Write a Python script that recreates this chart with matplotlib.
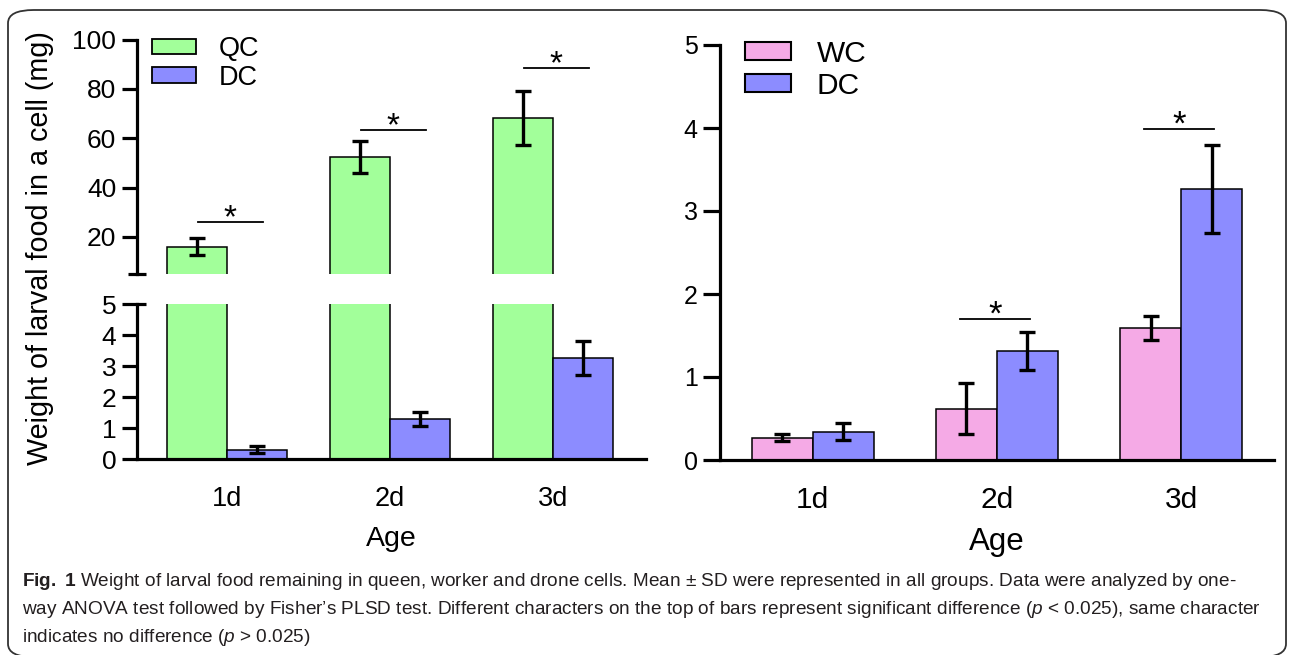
import numpy as np
import matplotlib
matplotlib.use("Agg")
import matplotlib.pyplot as plt
from matplotlib.patches import FancyBboxPatch, Patch

plt.rcParams['font.family'] = ['Liberation Sans', 'DejaVu Sans']
plt.rcParams['mathtext.fontset'] = 'custom'
plt.rcParams['mathtext.rm'] = 'Liberation Sans'
plt.rcParams['mathtext.it'] = 'Liberation Sans:italic'
plt.rcParams['mathtext.bf'] = 'Liberation Sans:bold'

# data
ages = ["1d", "2d", "3d"]

qc_mean = [16.1, 52.4, 68.3]
qc_sd = [3.6, 6.45, 10.9]
dc_left_mean = [0.31, 1.30, 3.28]
dc_left_sd = [0.12, 0.24, 0.55]

wc_mean = [0.27, 0.62, 1.59]
wc_sd = [0.04, 0.31, 0.145]
dc_mean = [0.34, 1.31, 3.27]
dc_sd = [0.10, 0.23, 0.53]

sig_left = [26.1, 63.3, 88.6]      # heights of "*" lines, left panel (top part)
sig_right_idx = [1, 2]
sig_right = [1.70, 3.99]

green = "#a2ff9a"
blue = "#8c8cff"
pink = "#f5aae6"

W, H = 1290, 655
fig = plt.figure(figsize=(W / 100, H / 100), dpi=100)

def box(x0, y0, x1, y1):
    return [x0 / W, 1 - y1 / H, (x1 - x0) / W, (y1 - y0) / H]

lw_ax = 2.3
ekw = dict(elinewidth=2.4, capsize=5.5, capthick=2.4, ecolor="black")
x = np.arange(len(ages))

# ---- left panel: broken axis
ax_top = fig.add_axes(box(137, 39.5, 646, 274))
ax_bot = fig.add_axes(box(137, 304.3, 646, 459.3))
bw = 0.368
xlim_l = (-0.552, 2.571)

for ax in (ax_top, ax_bot):
    ax.bar(x - bw / 2, qc_mean, bw, color=green, edgecolor="black", linewidth=1.1,
           yerr=qc_sd, error_kw=ekw)
    ax.bar(x + bw / 2, dc_left_mean, bw, color=blue, edgecolor="black", linewidth=1.1,
           yerr=dc_left_sd, error_kw=ekw)
    ax.set_xlim(*xlim_l)
    for s in ("top", "right"):
        ax.spines[s].set_visible(False)
    ax.spines["left"].set_linewidth(lw_ax)
    ax.spines["bottom"].set_linewidth(lw_ax)
    ax.tick_params(axis="y", length=11, width=lw_ax, labelsize=19, pad=4)
    ax.tick_params(axis="x", length=0, labelsize=19.5, pad=19)

ax_top.set_ylim(5, 100)
ax_top.set_yticks([20, 40, 60, 80, 100])
ax_top.spines["bottom"].set_visible(False)
ax_top.set_xticks([])
ax_bot.set_ylim(0, 5)
ax_bot.set_yticks([0, 1, 2, 3, 4, 5])
ax_bot.set_xticks(x)
ax_bot.set_xticklabels(ages)
ax_bot.set_xlabel("Age", fontsize=20.5, labelpad=10)

# break marks
ax_top.plot([-0.018, 0.018], [0, 0], transform=ax_top.transAxes, color="black",
            lw=lw_ax, clip_on=False, solid_capstyle="butt")
ax_bot.plot([0, 0.018], [1, 1], transform=ax_bot.transAxes, color="black",
            lw=lw_ax, clip_on=False, solid_capstyle="butt")

for i, h in enumerate(sig_left):
    ax_top.plot([i - 0.18, i + 0.22], [h, h], color="black", lw=1.3)
    ax_top.annotate("*", (i + 0.02, h), xytext=(0, -4), textcoords="offset points",
                    ha="center", va="baseline", fontsize=24)

ax_top.legend(handles=[Patch(facecolor=green, edgecolor="black", linewidth=1.3, label="QC"),
                       Patch(facecolor=blue, edgecolor="black", linewidth=1.3, label="DC")],
              loc="upper left", bbox_to_anchor=(0.03, 1.015), frameon=False, fontsize=19.5,
              handlelength=1.6, handleheight=0.5, handletextpad=0.85, labelspacing=0.1,
              borderpad=0, borderaxespad=0)

fig.text(40 / W, 1 - 248 / H, "Weight of larval food in a cell (mg)", rotation=90,
         ha="center", va="center", fontsize=20.7)

# ---- right panel
ax_r = fig.add_axes(box(720, 45, 1274, 460))
bw_r = 0.331
ax_r.bar(x - bw_r / 2, wc_mean, bw_r, color=pink, edgecolor="black", linewidth=1.1,
         yerr=wc_sd, error_kw=ekw)
ax_r.bar(x + bw_r / 2, dc_mean, bw_r, color=blue, edgecolor="black", linewidth=1.1,
         yerr=dc_sd, error_kw=ekw)
ax_r.set_xlim(-0.503, 2.504)
ax_r.set_ylim(0, 5)
ax_r.set_yticks([0, 1, 2, 3, 4, 5])
ax_r.set_xticks(x)
ax_r.set_xticklabels(ages)
for s in ("top", "right"):
    ax_r.spines[s].set_visible(False)
ax_r.spines["left"].set_linewidth(lw_ax)
ax_r.spines["bottom"].set_linewidth(lw_ax)
ax_r.tick_params(axis="y", length=12, width=lw_ax, labelsize=18, pad=4)
ax_r.tick_params(axis="x", length=0, labelsize=21.5, pad=19)
ax_r.set_xlabel("Age", fontsize=22.5, labelpad=9)

for i, h in zip(sig_right_idx, sig_right):
    ax_r.plot([i - 0.2, i + 0.18], [h, h], color="black", lw=1.3)
    ax_r.annotate("*", (i - 0.01, h), xytext=(0, -4), textcoords="offset points",
                  ha="center", va="baseline", fontsize=25)

ax_r.legend(handles=[Patch(facecolor=pink, edgecolor="black", linewidth=1.5, label="WC"),
                     Patch(facecolor=blue, edgecolor="black", linewidth=1.5, label="DC")],
            loc="upper left", bbox_to_anchor=(0.045, 1.012), frameon=False, fontsize=21.5,
            handlelength=1.55, handleheight=0.55, handletextpad=0.85, labelspacing=0.12,
            borderpad=0, borderaxespad=0)

# ---- frame and caption
fig.patches.append(FancyBboxPatch((8 / W, 1 - 657 / H), (1286 - 8) / W, (657 - 10) / H,
                                  boxstyle="round,pad=0,rounding_size=0.02",
                                  transform=fig.transFigure, fill=False,
                                  edgecolor="#333333", linewidth=1.3))

cap = [r"$\bf{Fig.}$ $\bf{1}$ Weight of larval food remaining in queen, worker and drone cells. Mean ± SD were represented in all groups. Data were analyzed by one-",
       r"way ANOVA test followed by Fisher’s PLSD test. Different characters on the top of bars represent significant difference ($\it{p}$ < 0.025), same character",
       r"indicates no difference ($\it{p}$ > 0.025)"]
for k, line in enumerate(cap):
    fig.text(22 / W, 1 - (582 + 27.5 * k) / H, line, ha="left", va="center",
             fontsize=13.7, color="#231f20")

fig.savefig("out.png", dpi=100)
